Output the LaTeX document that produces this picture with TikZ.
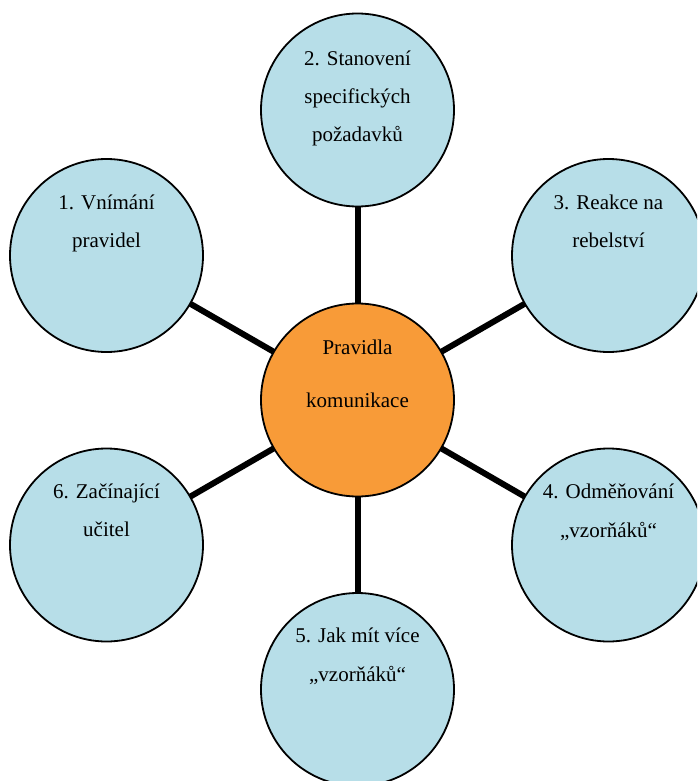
\documentclass[tikz,border=0pt]{standalone}
\usepackage{fontspec}
\setmainfont{Liberation Serif}
\usetikzlibrary{calc}
\definecolor{bluefill}{RGB}{183,222,232}
\definecolor{orangefill}{RGB}{248,155,56}
\begin{document}
\begin{tikzpicture}[x=1pt,y=-1pt,
  bubble/.style={circle, draw=black, line width=1.8pt, fill=bluefill, minimum size=193pt, inner sep=0pt, outer sep=0pt},
  hub/.style={bubble, fill=orangefill},
  conn/.style={line width=6pt, black},
  txt/.style={anchor=base, inner sep=0pt, font=\fontsize{21}{25}\selectfont}]
\clip (0,0) rectangle (697,781);
% circles
\node[hub]    (c0) at (357.5,400) {};
\node[bubble] (c1) at (106.5,255.5) {};
\node[bubble] (c2) at (357.5,110) {};
\node[bubble] (c3) at (608.5,255.5) {};
\node[bubble] (c4) at (608.5,545) {};
\node[bubble] (c5) at (357.5,689.5) {};
\node[bubble] (c6) at (106.5,545) {};
% connectors
\foreach \k in {1,...,6} { \draw[conn] (c0) -- (c\k); }
% texts
\node[txt] (t0a) at ($(c0)+(0,-46)$) {Pravidla};
\node[txt] (t0b) at ($(c0)+(0,7)$) {komunikace};
\node[txt] (t1a) at ($(c1)+(0,-46)$) {1. Vnímání};
\node[txt] (t1b) at ($(c1)+(0,-8)$) {pravidel};
\node[txt] (t2a) at ($(c2)+(0,-44)$) {2. Stanovení};
\node[txt] (t2b) at ($(c2)+(0,-6)$) {specifických};
\node[txt] (t2c) at ($(c2)+(0,32)$) {požadavků};
\node[txt] (t3a) at ($(c3)+(0,-46)$) {3. Reakce na};
\node[txt] (t3b) at ($(c3)+(0,-8)$) {rebelství};
\node[txt] (t4a) at ($(c4)+(0,-47)$) {4. Odměňování};
\node[txt] (t4b) at ($(c4)+(0,-8)$) {„vzorňáků“};
\node[txt] (t5a) at ($(c5)+(0,-47)$) {5. Jak mít více};
\node[txt] (t5b) at ($(c5)+(0,-8)$) {„vzorňáků“};
\node[txt] (t6a) at ($(c6)+(0,-47)$) {6. Začínající};
\node[txt] (t6b) at ($(c6)+(0,-9)$) {učitel};
\end{tikzpicture}
\end{document}
